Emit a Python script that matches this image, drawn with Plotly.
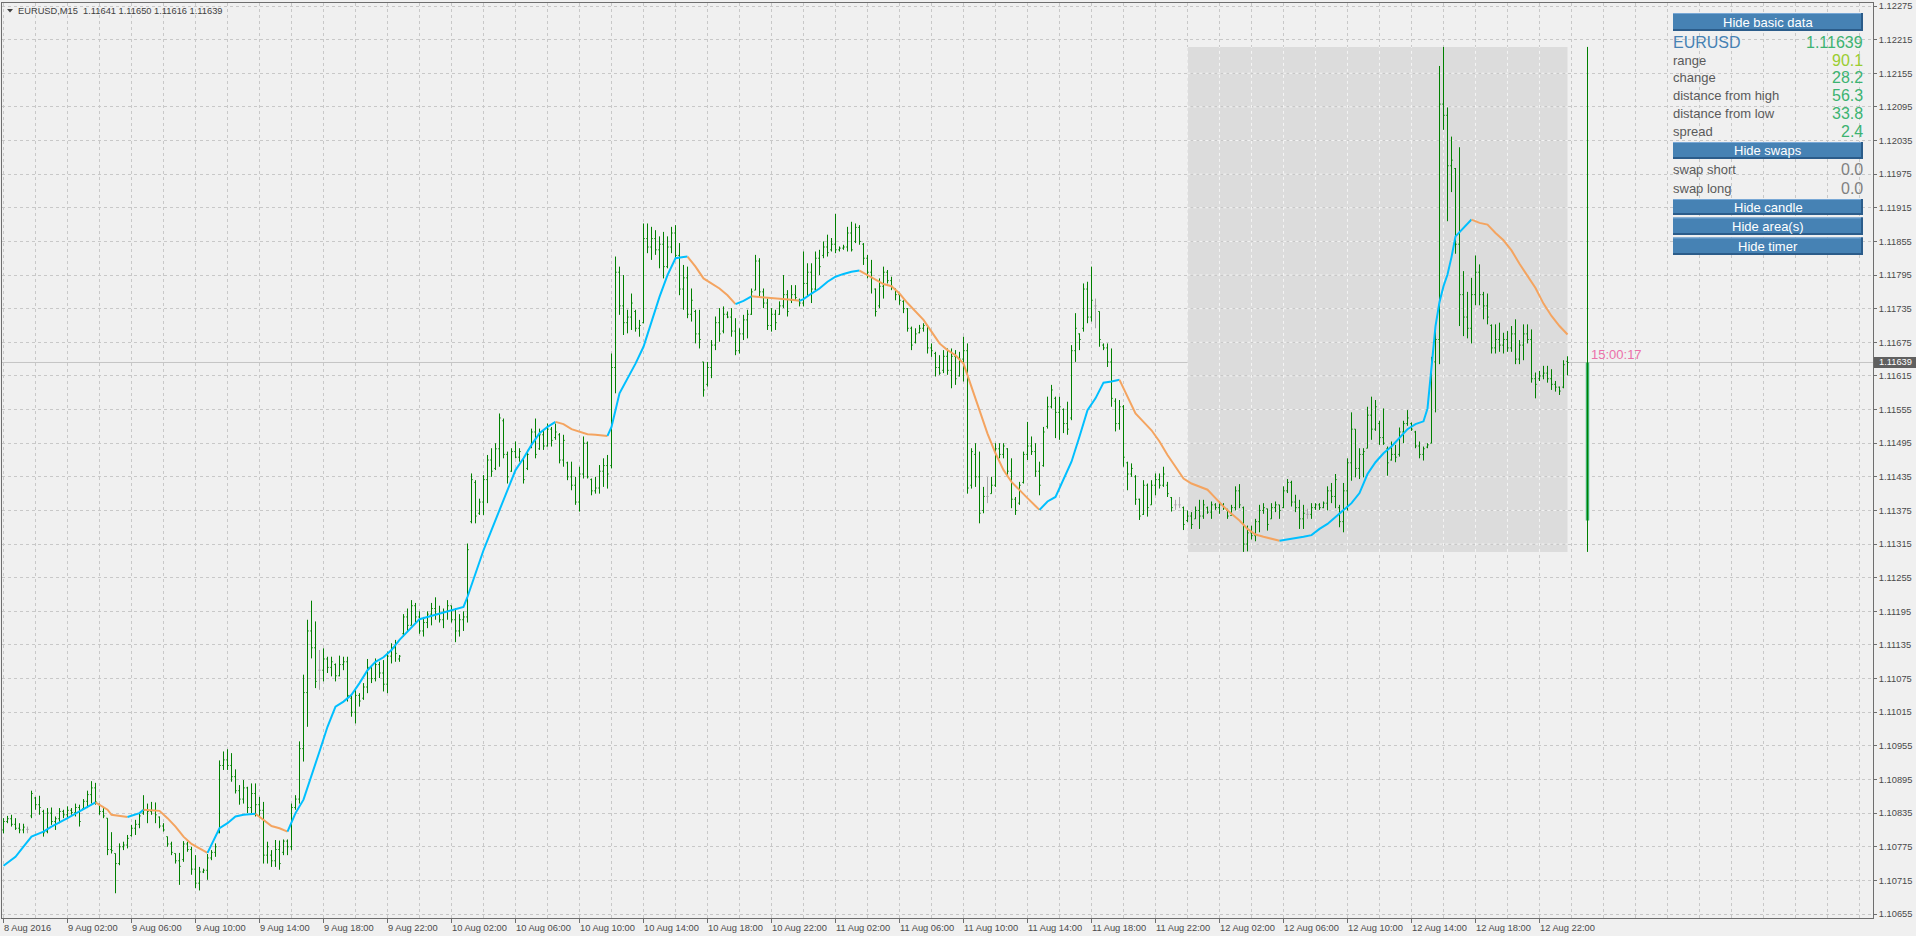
import plotly.graph_objects as go

# ---------------- data (prices stored as points above 1.10000) ----------------
BASE = 1.10000
POINT = 0.00001

opens = [
    805, 820, 825, 815, 808, 805, 806, 830, 862, 850,
    838, 802, 835, 820, 825, 838, 832, 840, 836, 845,
    843, 856, 868, 880, 850, 838, 826, 770, 763, 745,
    775, 778, 795, 808, 815, 835, 840, 838, 840, 828,
    812, 793, 780, 763, 750, 752, 780, 770, 735, 710,
    730, 733, 755, 765, 800, 920, 930, 920, 900, 875,
    860, 880, 845, 870, 850, 840, 760, 760, 750, 770,
    765, 785, 775, 845, 860, 950, 1050, 1160, 1130, 1090,
    1090, 1110, 1095, 1100, 1080, 1100, 1105, 1040, 1015, 1045,
    1040, 1060, 1095, 1075, 1100, 1085, 1065, 1115, 1130, 1110,
    1155, 1185, 1170, 1205, 1185, 1160, 1175, 1190, 1200, 1190,
    1180, 1195, 1205, 1180, 1160, 1180, 1185, 1355, 1425, 1370,
    1390, 1430, 1465, 1450, 1485, 1535, 1475, 1445, 1480, 1470,
    1465, 1450, 1488, 1515, 1485, 1510, 1490, 1520, 1505, 1510,
    1465, 1460, 1435, 1420, 1390, 1440, 1495, 1430, 1410, 1415,
    1445, 1455, 1455, 1630, 1800, 1740, 1710, 1720, 1730, 1700,
    1710, 1860, 1845, 1860, 1840, 1850, 1810, 1845, 1870, 1830,
    1770, 1790, 1725, 1730, 1690, 1640, 1600, 1630, 1670, 1710,
    1695, 1725, 1720, 1695, 1660, 1690, 1715, 1725, 1768, 1820,
    1765, 1745, 1705, 1725, 1725, 1740, 1760, 1750, 1760, 1750,
    1745, 1780, 1800, 1770, 1825, 1830, 1845, 1840, 1850, 1840,
    1843, 1845, 1870, 1855, 1880, 1850, 1825, 1800, 1770, 1740,
    1775, 1800, 1785, 1770, 1760, 1748, 1735, 1700, 1675, 1692,
    1700, 1705, 1665, 1655, 1630, 1625, 1650, 1625, 1650, 1615,
    1645, 1660, 1420, 1475, 1435, 1375, 1400, 1405, 1420, 1485,
    1475, 1485, 1445, 1395, 1388, 1425, 1475, 1490, 1480, 1445,
    1455, 1525, 1560, 1575, 1550, 1555, 1530, 1540, 1660, 1690,
    1700, 1770, 1720, 1740, 1730, 1670, 1665, 1640, 1570, 1530,
    1560, 1460, 1440, 1435, 1395, 1368, 1420, 1385, 1420, 1430,
    1420, 1420, 1398, 1385, 1385, 1380, 1357, 1365, 1360, 1375,
    1365, 1380, 1372, 1385, 1380, 1385, 1375, 1366, 1380, 1410,
    1380, 1315, 1335, 1330, 1355, 1375, 1378, 1360, 1380, 1385,
    1380, 1410, 1425, 1390, 1380, 1360, 1368, 1368, 1380, 1385,
    1380, 1388, 1410, 1400, 1380, 1355, 1410, 1460, 1520, 1450,
    1475, 1486, 1545, 1520, 1530, 1505, 1485, 1465, 1475, 1475,
    1515, 1530, 1530, 1515, 1490, 1475, 1488, 1495, 1640, 1680,
    2100, 2080, 1990, 1985, 1850, 1760, 1720, 1700, 1760, 1800,
    1760, 1740, 1705, 1665, 1680, 1670, 1680, 1665, 1690, 1645,
    1670, 1690, 1680, 1610, 1610, 1615, 1620, 1610, 1600, 1595,
    1595, 1641,
]
highs = [
    826, 830, 832, 826, 817, 816, 811, 875, 864, 866,
    841, 844, 845, 829, 844, 841, 847, 844, 852, 850,
    860, 875, 892, 889, 852, 844, 826, 801, 763, 781,
    784, 796, 814, 823, 835, 867, 852, 855, 854, 829,
    817, 793, 784, 763, 764, 785, 784, 775, 760, 739,
    736, 762, 769, 781, 929, 945, 949, 942, 913, 885,
    894, 882, 888, 888, 864, 855, 784, 769, 787, 786,
    788, 788, 852, 867, 963, 1082, 1180, 1214, 1177, 1126,
    1129, 1114, 1114, 1102, 1116, 1114, 1114, 1046, 1055, 1049,
    1067, 1110, 1099, 1111, 1105, 1108, 1123, 1138, 1144, 1117,
    1190, 1200, 1215, 1210, 1195, 1185, 1195, 1210, 1220, 1205,
    1200, 1215, 1205, 1200, 1190, 1195, 1316, 1441, 1429, 1396,
    1438, 1474, 1486, 1495, 1548, 1539, 1480, 1486, 1498, 1486,
    1468, 1483, 1521, 1539, 1521, 1518, 1530, 1524, 1530, 1513,
    1510, 1462, 1462, 1435, 1453, 1507, 1498, 1432, 1435, 1456,
    1468, 1474, 1655, 1828, 1810, 1795, 1733, 1762, 1733, 1715,
    1887, 1887, 1881, 1875, 1864, 1872, 1864, 1881, 1884, 1852,
    1813, 1810, 1771, 1733, 1733, 1640, 1640, 1679, 1721, 1736,
    1739, 1730, 1736, 1718, 1700, 1724, 1733, 1771, 1831, 1825,
    1771, 1753, 1736, 1733, 1748, 1795, 1768, 1777, 1777, 1753,
    1837, 1816, 1816, 1837, 1840, 1855, 1867, 1861, 1904, 1846,
    1849, 1881, 1890, 1887, 1884, 1852, 1831, 1822, 1771, 1789,
    1810, 1804, 1792, 1771, 1762, 1750, 1736, 1703, 1700, 1706,
    1709, 1706, 1673, 1658, 1652, 1661, 1664, 1664, 1661, 1658,
    1685, 1673, 1486, 1495, 1480, 1417, 1435, 1435, 1495, 1495,
    1495, 1486, 1468, 1399, 1426, 1480, 1533, 1507, 1495, 1462,
    1524, 1578, 1599, 1578, 1578, 1557, 1569, 1670, 1727, 1691,
    1780, 1783, 1810, 1753, 1730, 1673, 1673, 1664, 1575, 1572,
    1563, 1462, 1459, 1438, 1396, 1429, 1423, 1429, 1441, 1441,
    1453, 1426, 1399, 1394, 1399, 1382, 1375, 1372, 1382, 1394,
    1394, 1382, 1391, 1388, 1391, 1388, 1378, 1385, 1418, 1422,
    1382, 1348, 1348, 1360, 1385, 1388, 1378, 1388, 1391, 1385,
    1418, 1431, 1428, 1403, 1394, 1385, 1378, 1388, 1388, 1388,
    1391, 1418, 1424, 1440, 1385, 1424, 1468, 1550, 1520, 1486,
    1486, 1560, 1578, 1572, 1535, 1557, 1489, 1498, 1492, 1523,
    1535, 1554, 1532, 1517, 1498, 1489, 1495, 1649, 1704, 2168,
    2202, 2094, 2042, 1986, 2023, 1802, 1765, 1790, 1830, 1814,
    1765, 1762, 1707, 1707, 1710, 1692, 1695, 1704, 1716, 1679,
    1707, 1707, 1698, 1621, 1624, 1633, 1633, 1627, 1606, 1596,
    1643, 1650,
]
lows = [
    799, 817, 811, 805, 799, 799, 799, 826, 841, 832,
    793, 799, 814, 805, 817, 826, 826, 832, 829, 811,
    841, 844, 852, 850, 832, 826, 760, 763, 692, 742,
    769, 772, 793, 796, 808, 832, 817, 832, 817, 808,
    802, 775, 760, 745, 707, 748, 766, 725, 701, 697,
    728, 716, 751, 757, 799, 912, 912, 891, 870, 850,
    852, 835, 835, 829, 826, 745, 745, 739, 739, 734,
    760, 760, 769, 841, 852, 927, 989, 1111, 1058, 1055,
    1070, 1085, 1079, 1070, 1079, 1090, 1034, 1007, 995, 1025,
    1037, 1049, 1067, 1070, 1076, 1052, 1049, 1102, 1105, 1105,
    1150, 1160, 1170, 1175, 1155, 1150, 1165, 1170, 1180, 1175,
    1165, 1180, 1175, 1140, 1150, 1160, 1175, 1352, 1352, 1367,
    1367, 1388, 1435, 1447, 1453, 1468, 1423, 1444, 1468, 1462,
    1423, 1447, 1486, 1468, 1483, 1483, 1489, 1489, 1501, 1459,
    1453, 1429, 1411, 1385, 1373, 1432, 1432, 1402, 1405, 1405,
    1417, 1414, 1450, 1584, 1724, 1688, 1691, 1697, 1694, 1685,
    1709, 1834, 1822, 1831, 1807, 1789, 1807, 1834, 1822, 1759,
    1733, 1718, 1712, 1673, 1664, 1578, 1596, 1611, 1661, 1676,
    1691, 1718, 1685, 1652, 1655, 1679, 1682, 1724, 1768, 1756,
    1736, 1697, 1694, 1697, 1724, 1736, 1721, 1745, 1750, 1739,
    1739, 1756, 1745, 1768, 1795, 1825, 1828, 1837, 1834, 1837,
    1840, 1837, 1837, 1852, 1849, 1813, 1789, 1762, 1721, 1736,
    1753, 1780, 1768, 1750, 1742, 1727, 1694, 1661, 1673, 1691,
    1694, 1655, 1649, 1614, 1617, 1620, 1617, 1593, 1599, 1614,
    1605, 1405, 1414, 1417, 1352, 1370, 1388, 1405, 1417, 1468,
    1468, 1435, 1379, 1367, 1385, 1423, 1465, 1474, 1435, 1402,
    1453, 1521, 1557, 1504, 1501, 1513, 1510, 1536, 1640, 1661,
    1694, 1709, 1712, 1700, 1667, 1661, 1631, 1560, 1516, 1519,
    1453, 1411, 1435, 1385, 1358, 1367, 1364, 1385, 1402, 1414,
    1417, 1399, 1373, 1376, 1379, 1340, 1354, 1342, 1360, 1342,
    1360, 1369, 1360, 1376, 1369, 1376, 1360, 1366, 1375, 1379,
    1301, 1302, 1323, 1320, 1336, 1369, 1339, 1360, 1372, 1360,
    1379, 1406, 1382, 1372, 1342, 1342, 1360, 1360, 1376, 1376,
    1379, 1375, 1388, 1379, 1345, 1336, 1375, 1428, 1434, 1431,
    1434, 1486, 1501, 1517, 1492, 1492, 1437, 1464, 1461, 1471,
    1495, 1526, 1517, 1486, 1468, 1464, 1486, 1495, 1550, 1636,
    2054, 1891, 1943, 1833, 1704, 1686, 1682, 1673, 1741, 1741,
    1716, 1707, 1655, 1655, 1658, 1655, 1658, 1658, 1636, 1636,
    1643, 1673, 1603, 1575, 1606, 1609, 1603, 1590, 1587, 1581,
    1593, 1616,
]
closes = [
    820, 825, 815, 808, 805, 810, 806, 870, 850, 845,
    800, 835, 820, 825, 838, 832, 840, 836, 845, 820,
    856, 868, 880, 855, 838, 830, 770, 768, 745, 775,
    778, 790, 808, 815, 830, 840, 838, 840, 832, 812,
    805, 780, 765, 750, 740, 780, 770, 735, 710, 730,
    733, 755, 765, 775, 920, 930, 920, 900, 875, 860,
    880, 845, 870, 850, 840, 760, 775, 750, 770, 745,
    785, 775, 845, 860, 950, 1050, 1160, 1130, 1070, 1090,
    1110, 1095, 1105, 1080, 1100, 1105, 1045, 1015, 1045, 1035,
    1060, 1095, 1075, 1100, 1085, 1065, 1115, 1130, 1120, 1115,
    1185, 1170, 1205, 1185, 1160, 1175, 1190, 1200, 1190, 1180,
    1195, 1205, 1180, 1160, 1180, 1185, 1305, 1430, 1365, 1390,
    1430, 1465, 1445, 1485, 1540, 1475, 1435, 1480, 1470, 1480,
    1430, 1475, 1515, 1475, 1510, 1490, 1520, 1500, 1515, 1465,
    1500, 1435, 1420, 1390, 1440, 1495, 1435, 1410, 1415, 1445,
    1455, 1440, 1630, 1800, 1740, 1710, 1720, 1745, 1700, 1705,
    1860, 1845, 1860, 1840, 1850, 1810, 1845, 1870, 1830, 1770,
    1790, 1725, 1750, 1690, 1680, 1590, 1630, 1670, 1710, 1690,
    1725, 1720, 1695, 1660, 1690, 1715, 1725, 1765, 1820, 1765,
    1745, 1705, 1725, 1710, 1740, 1760, 1730, 1760, 1755, 1745,
    1780, 1800, 1770, 1825, 1810, 1845, 1835, 1850, 1840, 1843,
    1845, 1870, 1840, 1880, 1855, 1825, 1800, 1790, 1730, 1775,
    1800, 1785, 1775, 1760, 1750, 1735, 1700, 1670, 1690, 1700,
    1705, 1665, 1660, 1630, 1620, 1650, 1625, 1650, 1610, 1645,
    1660, 1415, 1480, 1435, 1370, 1400, 1400, 1420, 1485, 1475,
    1490, 1445, 1395, 1375, 1420, 1475, 1490, 1480, 1445, 1420,
    1515, 1560, 1590, 1550, 1560, 1530, 1520, 1660, 1700, 1680,
    1770, 1720, 1750, 1740, 1680, 1665, 1640, 1575, 1530, 1560,
    1470, 1440, 1450, 1395, 1365, 1420, 1380, 1420, 1430, 1420,
    1440, 1405, 1380, 1385, 1385, 1350, 1365, 1350, 1375, 1365,
    1385, 1372, 1385, 1380, 1385, 1380, 1365, 1380, 1410, 1385,
    1315, 1335, 1330, 1355, 1375, 1380, 1350, 1380, 1385, 1375,
    1410, 1425, 1390, 1380, 1360, 1370, 1368, 1380, 1385, 1380,
    1388, 1410, 1400, 1430, 1355, 1410, 1460, 1520, 1450, 1475,
    1480, 1545, 1520, 1560, 1505, 1495, 1460, 1475, 1470, 1515,
    1530, 1540, 1520, 1490, 1475, 1485, 1492, 1640, 1680, 2100,
    2080, 1990, 2000, 1850, 1760, 1720, 1700, 1760, 1800, 1760,
    1740, 1720, 1665, 1680, 1670, 1680, 1665, 1690, 1645, 1670,
    1690, 1680, 1610, 1600, 1615, 1620, 1610, 1600, 1595, 1588,
    1635, 1639,
]

# moving average read at bar positions (bar index, value in points)
ma_bars = [0, 3, 5, 7, 10, 12, 16, 19, 23, 26, 27, 30, 31, 34, 35, 38, 39, 41, 43, 45,
           47, 49, 51, 53, 54, 56, 58, 60, 63, 65, 67, 69, 71, 73, 75, 77, 79, 81, 83, 85,
           87, 89, 91, 93, 95, 97, 99, 104, 108, 112, 115, 116, 118, 120, 122, 124, 126, 128, 130, 132,
           134, 136, 138, 140, 142, 144, 146, 148, 150, 151, 152, 154, 156, 158, 160, 162, 164, 166, 168, 170,
           171, 173, 175, 177, 179, 181, 183, 185, 187, 189, 191, 193, 195, 197, 199, 200, 202, 204, 206, 208,
           210, 212, 214, 216, 218, 220, 222, 224, 226, 228, 230, 232, 234, 236, 238, 240, 242, 244, 246, 248,
           250, 252, 254, 256, 258, 259, 261, 263, 265, 267, 269, 271, 273, 275, 277, 279, 281, 283, 285, 287,
           289, 291, 293, 295, 297, 299, 301, 303, 305, 307, 309, 311, 313, 315, 317, 319, 321, 323, 325, 327,
           329, 331, 333, 335, 337, 339, 341, 343, 345, 347, 349, 351, 353, 355, 356, 357, 358, 359, 360, 361,
           362, 363, 365, 367, 369, 371, 373, 375, 377, 379, 381, 383, 385, 387, 389, 391]
ma_vals = [741, 757, 775, 793, 802, 811, 826, 838, 854, 841, 832, 829, 828, 835, 841, 840, 839, 826, 811, 793,
           780, 772, 764, 793, 808, 817, 829, 832, 834, 823, 812, 808, 802, 835, 859, 900, 945, 989, 1025, 1034,
           1046, 1067, 1090, 1105, 1113, 1126, 1144, 1181, 1189, 1197, 1203, 1221, 1263, 1304, 1340, 1376, 1414, 1447, 1468, 1492,
           1513, 1524, 1533, 1529, 1520, 1515, 1511, 1510, 1509, 1508, 1524, 1584, 1611, 1637, 1667, 1712, 1756, 1795, 1825, 1827,
           1828, 1810, 1789, 1780, 1771, 1759, 1743, 1749, 1757, 1756, 1755, 1753, 1752, 1751, 1749, 1752, 1762, 1771, 1783, 1792,
           1797, 1801, 1803, 1795, 1786, 1779, 1775, 1762, 1745, 1730, 1715, 1694, 1673, 1661, 1652, 1637, 1596, 1554, 1512, 1477,
           1447, 1426, 1411, 1397, 1383, 1376, 1391, 1399, 1429, 1462, 1507, 1554, 1575, 1603, 1605, 1608, 1578, 1548, 1533, 1518,
           1498, 1474, 1453, 1432, 1423, 1418, 1412, 1397, 1382, 1369, 1357, 1342, 1332, 1328, 1325, 1321, 1323, 1325, 1328, 1331,
           1342, 1351, 1363, 1375, 1388, 1406, 1440, 1461, 1477, 1489, 1504, 1520, 1529, 1534, 1557, 1636, 1704, 1747, 1775, 1796,
           1827, 1864, 1879, 1894, 1888, 1885, 1870, 1857, 1839, 1815, 1793, 1772, 1744, 1722, 1704, 1689]

x_label_bars = [0, 16, 32, 48, 64, 80, 96, 112, 128, 144, 160, 176, 192, 208, 224, 240, 256,
                272, 288, 304, 320, 336, 352, 368, 384]
x_label_text = ["8 Aug 2016", "9 Aug 02:00", "9 Aug 06:00", "9 Aug 10:00", "9 Aug 14:00",
                "9 Aug 18:00", "9 Aug 22:00", "10 Aug 02:00", "10 Aug 06:00", "10 Aug 10:00",
                "10 Aug 14:00", "10 Aug 18:00", "10 Aug 22:00", "11 Aug 02:00", "11 Aug 06:00",
                "11 Aug 10:00", "11 Aug 14:00", "11 Aug 18:00", "11 Aug 22:00", "12 Aug 02:00",
                "12 Aug 06:00", "12 Aug 10:00", "12 Aug 14:00", "12 Aug 18:00", "12 Aug 22:00"]
y_tick_text = ["1.10655", "1.10715", "1.10775", "1.10835", "1.10895", "1.10955", "1.11015",
               "1.11075", "1.11135", "1.11195", "1.11255", "1.11315", "1.11375", "1.11435",
               "1.11495", "1.11555", "1.11615", "1.11675", "1.11735", "1.11795", "1.11855",
               "1.11915", "1.11975", "1.12035", "1.12095", "1.12155", "1.12215", "1.12275"]

day_bar = 396
day_open, day_high, day_low, day_close = 1357, 2202, 1301, 1639
area_first_bar, area_last_bar = 296, 391

title_text = "EURUSD,M15\u00a0\u00a01.11641 1.11650 1.11616 1.11639"
timer_text = "15:00:17"
symbol_text, bid_text = "EURUSD", "1.11639"
basic_labels = ["range", "change", "distance from high", "distance from low", "spread"]
basic_values = ["90.1", "28.2", "56.3", "33.8", "2.4"]
swap_labels = ["swap short", "swap long"]
swap_values = ["0.0", "0.0"]
button_texts = ["Hide basic data", "Hide swaps", "Hide candle", "Hide area(s)", "Hide timer"]

# ---------------- layout helpers ----------------
W, H = 1916, 936
ML, MR, MT, MB = 2, 43, 3, 18
PW, PH = W - ML - MR, H - MT - MB
BAR_PX = 4.0
X0 = -0.375
X1 = X0 + PW / BAR_PX
PX_PER_STEP = 908 / 27.0
Y_TOP = 1.12275 + 3 * 0.0006 / PX_PER_STEP
Y_BOT = Y_TOP - PH * 0.0006 / PX_PER_STEP

GREEN = "#008000"
GRID = "#C8C8C8"
AXIS = "#6E6E6E"
TXT = "#4A4A4A"
FONT = "Liberation Sans"


def price(v):
    return round(BASE + v * POINT, 5)


def px(x):
    return (x - ML) / PW


def py(y):
    return 1 - (y - MT) / PH


fig = go.Figure()

n = len(opens)
normal = [i for i in range(n) if opens[i] != closes[i]]
doji = [i for i in range(n) if opens[i] == closes[i]]


def ohlc(ids, color):
    return go.Ohlc(
        x=ids,
        open=[price(opens[i]) for i in ids],
        high=[price(highs[i]) for i in ids],
        low=[price(lows[i]) for i in ids],
        close=[price(closes[i]) for i in ids],
        increasing=dict(line=dict(color=color, width=1)),
        decreasing=dict(line=dict(color=color, width=1)),
        tickwidth=0.3, hoverinfo="skip", showlegend=False,
    )


fig.add_trace(ohlc(normal, GREEN))
fig.add_trace(ohlc(doji, "#A8A8A8"))

# moving average, coloured by slope
runs = []
cur = None
for k in range(len(ma_bars) - 1):
    up = ma_vals[k + 1] >= ma_vals[k]
    if cur is None or cur[0] != up:
        cur = [up, [k]]
        runs.append(cur)
    cur[1].append(k + 1)
for up, ks in runs:
    fig.add_trace(go.Scatter(
        x=[ma_bars[k] for k in ks], y=[price(ma_vals[k]) for k in ks],
        mode="lines", line=dict(color="#00BFFF" if up else "#F4A460", width=2),
        hoverinfo="skip", showlegend=False))

# daily candle
fig.add_trace(go.Scatter(x=[day_bar, day_bar], y=[price(day_low), price(day_high)],
                         mode="lines", line=dict(color=GREEN, width=1),
                         hoverinfo="skip", showlegend=False))
fig.add_trace(go.Bar(x=[day_bar], base=[price(day_open)],
                     y=[price(day_close) - price(day_open)], width=0.85,
                     marker=dict(color="#3CB371", line=dict(width=0)),
                     hoverinfo="skip", showlegend=False))

shapes = []
# day area
shapes.append(dict(type="rect", xref="x", yref="y", x0=area_first_bar, x1=area_last_bar,
                   y0=price(day_low), y1=price(day_high), fillcolor="#DCDCDC",
                   line=dict(width=0), layer="below"))
# lighter grid inside area
for b in range(area_first_bar, area_last_bar + 1, 8):
    shapes.append(dict(type="line", xref="x", yref="y", x0=b, x1=b,
                       y0=price(day_low), y1=price(day_high),
                       line=dict(color="#F4F4F4", width=1, dash="3px,3px"), layer="between"))
for t in y_tick_text:
    v = float(t)
    if price(day_low) < v < price(day_high):
        shapes.append(dict(type="line", xref="x", yref="y", x0=area_first_bar, x1=area_last_bar,
                           y0=v, y1=v, line=dict(color="#F4F4F4", width=1, dash="3px,3px"),
                           layer="between"))
# bid line
shapes.append(dict(type="line", xref="paper", yref="y", x0=0, x1=1,
                   y0=price(closes[-1]), y1=price(closes[-1]),
                   line=dict(color="#C4C4C4", width=1), layer="between"))
# bid box on price scale
shapes.append(dict(type="rect", xref="paper", yref="paper", x0=px(1874), x1=px(1916),
                   y0=py(368), y1=py(357), fillcolor="#606060", line=dict(width=0)))
# title triangle
shapes.append(dict(type="path", xref="paper", yref="paper",
                   path=f"M {px(7)} {py(9)} L {px(13)} {py(9)} L {px(10)} {py(12.5)} Z",
                   fillcolor="#404040", line=dict(width=0)))

annotations = []
annotations.append(dict(text=title_text, xref="paper", yref="paper", x=px(16), y=py(11),
                        xanchor="left", yanchor="middle", showarrow=False,
                        font=dict(family=FONT, size=9.3, color="#404040")))
for b, t in zip(x_label_bars, x_label_text):
    annotations.append(dict(text=t, xref="x", yref="paper", x=b, y=py(927.5),
                            xanchor="left", yanchor="middle", showarrow=False, xshift=-2,
                            font=dict(family=FONT, size=9.3, color=TXT)))
annotations.append(dict(text=bid_text, xref="paper", yref="paper", x=px(1877), y=py(362.5),
                        xanchor="left", yanchor="middle", showarrow=False,
                        font=dict(family=FONT, size=9.3, color="#FFFFFF")))
annotations.append(dict(text=timer_text, xref="paper", yref="paper", x=px(1589), y=py(354),
                        xanchor="left", yanchor="middle", showarrow=False,
                        font=dict(family=FONT, size=13, color="#EC6FA9")))

# info panel
BX0, BX1 = 1673, 1863
button_rows = [(13, 31), (142, 159), (199, 215), (217.5, 235), (237.5, 255)]
for (t0, t1), label in zip(button_rows, button_texts):
    shapes.append(dict(type="rect", xref="paper", yref="paper", x0=px(BX0), x1=px(BX1),
                       y0=py(t1), y1=py(t0), fillcolor="#4682B4", line=dict(width=0)))
    shapes.append(dict(type="rect", xref="paper", yref="paper", x0=px(BX0), x1=px(BX1),
                       y0=py(t0 + 1), y1=py(t0), fillcolor="#78A8D6", line=dict(width=0)))
    shapes.append(dict(type="rect", xref="paper", yref="paper", x0=px(BX0), x1=px(BX1),
                       y0=py(t1), y1=py(t1 - 2), fillcolor="#2B5C8A", line=dict(width=0)))
    shapes.append(dict(type="rect", xref="paper", yref="paper", x0=px(BX1 - 2), x1=px(BX1),
                       y0=py(t1), y1=py(t0), fillcolor="#2B5C8A", line=dict(width=0)))
    annotations.append(dict(text=label, xref="paper", yref="paper", x=px((BX0 + BX1) / 2),
                            y=py((t0 + t1) / 2), xanchor="center", yanchor="middle",
                            showarrow=False, font=dict(family=FONT, size=13, color="#FFFFFF")))

annotations.append(dict(text=symbol_text, xref="paper", yref="paper", x=px(BX0), y=py(42.5),
                        xanchor="left", yanchor="middle", showarrow=False, xshift=-2,
                        font=dict(family=FONT, size=16, color="#4682B4")))
annotations.append(dict(text=bid_text, xref="paper", yref="paper", x=px(BX1), y=py(42.5),
                        xanchor="right", yanchor="middle", showarrow=False, xshift=2,
                        font=dict(family=FONT, size=16, color="#3CB371")))
row_y = [60, 78, 96, 113.5, 131]
for yy, lab, val in zip(row_y, basic_labels, basic_values):
    annotations.append(dict(text=lab, xref="paper", yref="paper", x=px(BX0), y=py(yy),
                            xanchor="left", yanchor="middle", showarrow=False, xshift=-2,
                            font=dict(family=FONT, size=13, color="#5A5A5A")))
    annotations.append(dict(text=val, xref="paper", yref="paper", x=px(BX1), y=py(yy),
                            xanchor="right", yanchor="middle", showarrow=False, xshift=2,
                            font=dict(family=FONT, size=16,
                                      color="#9ACD32" if lab == "range" else "#3CB371")))
for yy, lab, val in zip([169.5, 188], swap_labels, swap_values):
    annotations.append(dict(text=lab, xref="paper", yref="paper", x=px(BX0), y=py(yy),
                            xanchor="left", yanchor="middle", showarrow=False, xshift=-2,
                            font=dict(family=FONT, size=13, color="#5A5A5A")))
    annotations.append(dict(text=val, xref="paper", yref="paper", x=px(BX1), y=py(yy),
                            xanchor="right", yanchor="middle", showarrow=False, xshift=2,
                            font=dict(family=FONT, size=16, color="#808080")))

fig.update_layout(
    width=W, height=H, autosize=False,
    margin=dict(l=ML, r=MR, t=MT, b=MB, pad=0),
    paper_bgcolor="#F0F0F0", plot_bgcolor="#F0F0F0",
    showlegend=False, barmode="overlay", hovermode=False,
    shapes=shapes, annotations=annotations,
    xaxis=dict(
        range=[X0, X1], rangeslider=dict(visible=False),
        tickmode="array", tickvals=x_label_bars, showticklabels=False,
        ticks="outside", ticklen=4, tickcolor=AXIS, tickwidth=1,
        showgrid=True, gridcolor=GRID, gridwidth=1, griddash="3px,3px",
        minor=dict(tickvals=list(range(0, 468, 8)), showgrid=True, gridcolor=GRID,
                   gridwidth=1, griddash="3px,3px", ticks=""),
        showline=True, linecolor=AXIS, linewidth=1, mirror=True, zeroline=False,
        fixedrange=True,
    ),
    yaxis=dict(
        range=[Y_BOT, Y_TOP], side="right",
        tickmode="array", tickvals=[float(t) for t in y_tick_text], ticktext=y_tick_text,
        ticks="outside", ticklen=3, tickcolor=AXIS, tickwidth=1,
        tickfont=dict(family=FONT, size=9.3, color=TXT),
        showgrid=True, gridcolor=GRID, gridwidth=1, griddash="3px,3px",
        showline=True, linecolor=AXIS, linewidth=1, mirror=True, zeroline=False,
        fixedrange=True,
    ),
)

fig.write_html(
    "out.html",
    config={"displayModeBar": False},
    post_script="document.body.style.margin='0';document.body.style.overflow='hidden';",
)
